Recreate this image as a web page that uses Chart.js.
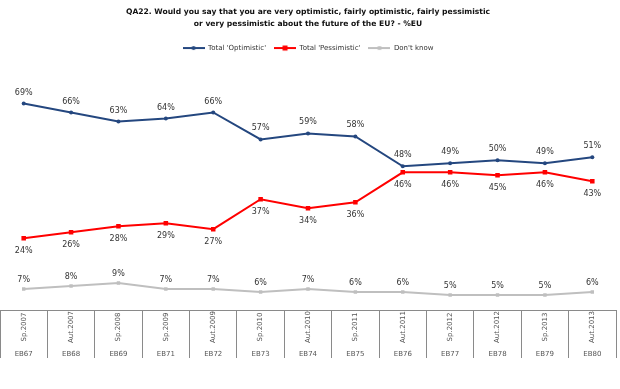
<!DOCTYPE html>
<html>
<head>
<meta charset="utf-8">
<script src="https://cdn.jsdelivr.net/npm/chart.js@4"></script>
<style>
  html, body { margin: 0; padding: 0; background: #fff; }
</style>
</head>
<body>
<canvas id="chart" width="620" height="389"></canvas>
<script>
// data
var periods = ['Sp.2007', 'Aut.2007', 'Sp.2008', 'Sp.2009', 'Aut.2009', 'Sp.2010', 'Aut.2010',
               'Sp.2011', 'Aut.2011', 'Sp.2012', 'Aut.2012', 'Sp.2013', 'Aut.2013'];
var waves = ['EB67', 'EB68', 'EB69', 'EB71', 'EB72', 'EB73', 'EB74', 'EB75', 'EB76', 'EB77', 'EB78', 'EB79', 'EB80'];
var optimistic = [69, 66, 63, 64, 66, 57, 59, 58, 48, 49, 50, 49, 51];
var pessimistic = [24, 26, 28, 29, 27, 37, 34, 36, 46, 46, 45, 46, 43];
var dontKnow = [7, 8, 9, 7, 7, 6, 7, 6, 6, 5, 5, 5, 6];

var FONT = '"DejaVu Sans", Verdana, sans-serif';

// petit dessin ligne + marqueur pour la légende
function legendIcon(color, shape, size) {
  var c = document.createElement('canvas');
  c.width = 22; c.height = 8;
  var g = c.getContext('2d');
  g.strokeStyle = color; g.lineWidth = 2;
  g.beginPath(); g.moveTo(0, 4); g.lineTo(22, 4); g.stroke();
  g.fillStyle = color;
  if (shape === 'rect') {
    g.fillRect(11 - size, 4 - size, size * 2, size * 2);
  } else {
    g.beginPath(); g.arc(11, 4, size, 0, Math.PI * 2); g.fill();
  }
  return c;
}

// espace sous la légende
var legendGap = {
  id: 'legendGap',
  beforeInit: function(chart) {
    var fit = chart.legend.fit;
    chart.legend.fit = function() {
      fit.call(this);
      this.height += 9;
    };
  }
};

// étiquettes de valeurs
var valueLabels = {
  id: 'valueLabels',
  afterDatasetsDraw: function(chart) {
    var ctx = chart.ctx;
    var offsets = [-11, 13, -9];
    ctx.save();
    ctx.font = '8px ' + FONT;
    ctx.fillStyle = '#333';
    ctx.textAlign = 'center';
    ctx.textBaseline = 'middle';
    chart.data.datasets.forEach(function(ds, i) {
      var meta = chart.getDatasetMeta(i);
      meta.data.forEach(function(pt, j) {
        ctx.fillText(ds.data[j] + '%', pt.x, pt.y + offsets[i]);
      });
    });
    ctx.restore();
  }
};

// tableau sous l'axe
var axisTable = {
  id: 'axisTable',
  afterDraw: function(chart) {
    var ctx = chart.ctx;
    var xs = chart.scales.x;
    var top = xs.top;
    ctx.save();
    ctx.fillStyle = '#555';
    ctx.font = '7px ' + FONT;
    ctx.textAlign = 'center';
    ctx.textBaseline = 'middle';
    periods.forEach(function(p, i) {
      var x = xs.getPixelForValue(i);
      ctx.save();
      ctx.translate(x, top + 17);
      ctx.rotate(-Math.PI / 2);
      ctx.fillText(p, 0, 0);
      ctx.restore();
      ctx.fillText(waves[i], x, top + 44);
    });
    ctx.restore();
  }
};

var ctx = document.getElementById('chart').getContext('2d');
var chart = new Chart(ctx, {
  type: 'line',
  data: {
    labels: periods,
    datasets: [{
      label: "Total 'Optimistic'",
      data: optimistic,
      borderColor: '#24477f',
      backgroundColor: '#24477f',
      borderWidth: 2,
      pointStyle: 'circle',
      pointRadius: 2,
      pointBorderWidth: 0,
      pointIcon: legendIcon('#24477f', 'circle', 2)
    }, {
      label: "Total 'Pessimistic'",
      data: pessimistic,
      borderColor: '#ff0000',
      backgroundColor: '#ff0000',
      borderWidth: 2,
      pointStyle: 'rect',
      pointRadius: 3.2,
      pointBorderWidth: 0,
      pointIcon: legendIcon('#ff0000', 'rect', 2.5)
    }, {
      label: "Don't know",
      data: dontKnow,
      borderColor: '#bfbfbf',
      backgroundColor: '#bfbfbf',
      borderWidth: 2,
      pointStyle: 'rect',
      pointRadius: 2.4,
      pointBorderWidth: 0,
      pointIcon: legendIcon('#bfbfbf', 'rect', 1.8)
    }]
  },
  options: {
    responsive: false,
    animation: false,
    layout: { autoPadding: false, padding: { left: 0, right: 4, top: 4, bottom: 31 } },
    plugins: {
      title: {
        display: true,
        text: ['QA22. Would you say that you are very optimistic, fairly optimistic, fairly pessimistic',
               'or very pessimistic about the future of the EU? - %EU'],
        font: { family: FONT, size: 7.6, weight: 'bold', lineHeight: 1.55 },
        color: '#111',
        padding: { top: 2, bottom: 7 }
      },
      legend: {
        labels: {
          font: { family: FONT, size: 7 },
          color: '#333',
          usePointStyle: true,
          pointStyleWidth: 22,
          boxHeight: 8,
          padding: 8,
          generateLabels: function(chart) {
            return chart.data.datasets.map(function(ds, i) {
              return {
                text: ds.label,
                pointStyle: ds.pointIcon,
                datasetIndex: i,
                fontColor: '#333',
                lineWidth: 0
              };
            });
          }
        }
      },
      tooltip: { enabled: false }
    },
    scales: {
      x: {
        offset: true,
        grid: { offset: true, drawOnChartArea: false, drawTicks: true, tickLength: 48, color: '#8a8a8a' },
        border: { display: true, color: '#8a8a8a' },
        ticks: { display: false }
      },
      y: {
        display: false,
        min: 0,
        max: 80
      }
    }
  },
  plugins: [legendGap, valueLabels, axisTable]
});
</script>
</body>
</html>
